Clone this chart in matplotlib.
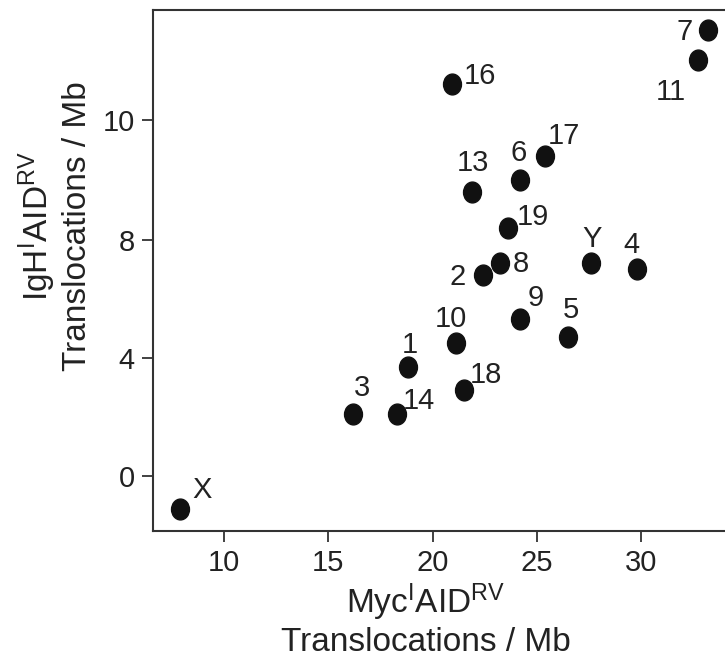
import numpy as np
import matplotlib
matplotlib.use("Agg")
import matplotlib.pyplot as plt
from matplotlib.markers import MarkerStyle
from matplotlib.transforms import Affine2D

plt.rcParams["font.family"] = ["Liberation Sans", "DejaVu Sans"]
plt.rcParams["mathtext.fontset"] = "custom"
plt.rcParams["mathtext.rm"] = "Liberation Sans"
plt.rcParams["mathtext.it"] = "Liberation Sans:italic"

# chromosome labels and translocation densities (per Mb)
chrom = ["X", "3", "14", "1", "10", "18", "5", "9", "2", "8",
         "19", "Y", "4", "13", "6", "17", "16", "11", "7"]
myc_tx = [7.9, 16.2, 18.3, 18.8, 21.1, 21.5, 26.5, 24.2, 22.4, 23.2,
          23.6, 27.6, 29.8, 21.9, 24.2, 25.4, 20.9, 32.7, 33.2]
igh_tx = [-1.1, 2.1, 2.1, 3.7, 4.5, 2.9, 4.7, 5.3, 6.8, 7.2,
          8.2, 7.2, 7.0, 8.8, 9.0, 9.4, 10.6, 11.0, 11.5]

x_ticks = [10, 15, 20, 25, 30]
y_ticks = [0, 4, 8, 10]

# label offsets from marker centre, in pixels (dx, dy up)
label_offsets = {
    "X": (22, 21), "3": (9, 28), "14": (22, 15), "1": (2, 24),
    "10": (-5, 26), "18": (22, 17), "5": (2, 29), "9": (15, 23),
    "2": (-25, 0), "8": (21, 1), "19": (25, 13), "Y": (1, 26),
    "4": (-6, 26), "13": (1, 31), "6": (-2, 29), "17": (18, 22),
    "16": (28, 10), "11": (-27, -30), "7": (-24, 0),
}

# the y axis is stretched above 8 in the original
def fwd(y):
    y = np.asarray(y, dtype=float)
    return np.where(y <= 8, y, 8 + (y - 8) * 2.03)

def inv(v):
    v = np.asarray(v, dtype=float)
    return np.where(v <= 8, v, 8 + (v - 8) / 2.03)

ink = "#222222"
fig = plt.figure(figsize=(7.25, 6.6), dpi=100)
ax = fig.add_axes([153 / 725, 1 - 531 / 660, 572 / 725, 521 / 660])
ax.set_yscale("function", functions=(fwd, inv))

marker = MarkerStyle("o", transform=Affine2D().scale(0.86, 1.0))
ax.plot(myc_tx, igh_tx, linestyle="none", marker=marker, markersize=15,
        color="#111111", zorder=3)

for name, xv, yv in zip(chrom, myc_tx, igh_tx):
    dx, dy = label_offsets[name]
    ax.annotate(name, (xv, yv), xytext=(dx, dy - 10), textcoords="offset pixels",
                ha="center", va="baseline", fontsize=21, color=ink)

ax.set_xlim(6.6, 34.0)
ax.set_ylim(-1.86, 11.83)
ax.set_xticks(x_ticks)
ax.set_yticks(y_ticks)
ax.set_yticklabels([str(t) for t in y_ticks])
ax.minorticks_off()
ax.tick_params(direction="out", length=8, width=1.3, color="#333333",
               labelsize=21, labelcolor=ink, pad=5)
for side in ["left", "bottom", "top"]:
    ax.spines[side].set_linewidth(1.5)
    ax.spines[side].set_color("#333333")
ax.spines["right"].set_visible(False)

fig.text(426 / 725, 1 - 620 / 660,
         "Myc$^{\\mathrm{I}}$AID$^{\\mathrm{RV}}$\nTranslocations / Mb",
         ha="center", va="center", fontsize=24, color=ink, linespacing=1.15)
fig.text(55 / 725, 1 - 226 / 660,
         "IgH$^{\\mathrm{I}}$AID$^{\\mathrm{RV}}$\nTranslocations / Mb",
         ha="center", va="center", rotation=90, fontsize=24, color=ink,
         linespacing=1.15)

fig.savefig("out.png", dpi=100)
